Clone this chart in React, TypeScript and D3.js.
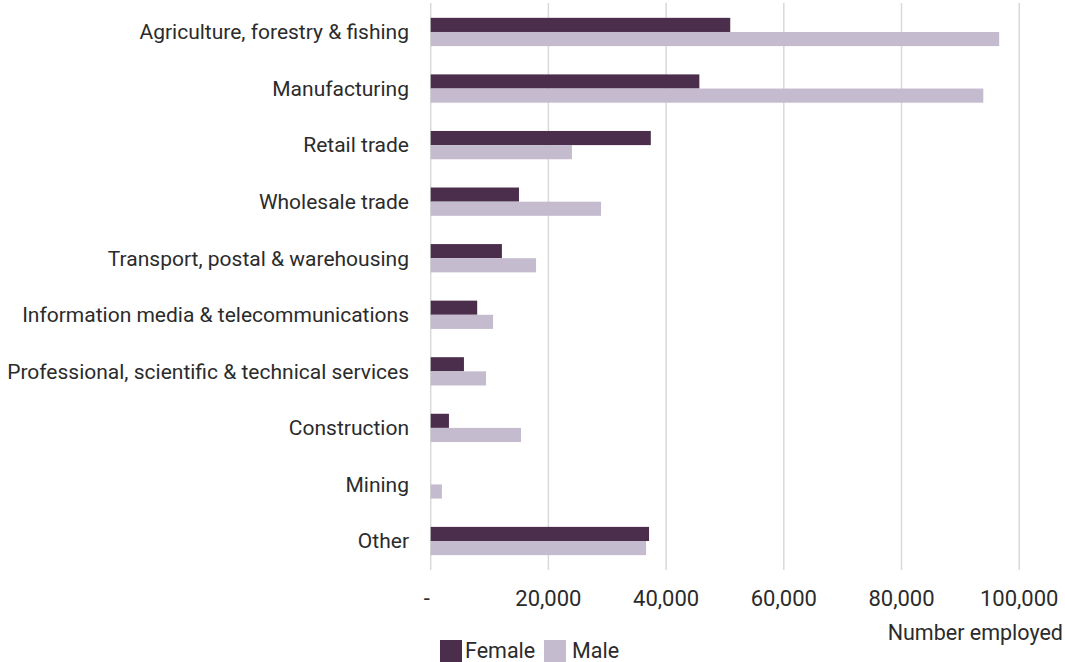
import React, { useEffect, useRef } from 'react';
import * as d3 from 'd3';

// industries, top to bottom
const industries = [
  'Agriculture, forestry & fishing',
  'Manufacturing',
  'Retail trade',
  'Wholesale trade',
  'Transport, postal & warehousing',
  'Information media & telecommunications',
  'Professional, scientific & technical services',
  'Construction',
  'Mining',
  'Other',
];

const femaleEmployed = [50900, 45650, 37400, 15000, 12100, 7900, 5650, 3100, 0, 37100];
const maleEmployed = [96600, 93900, 24000, 28950, 17900, 10600, 9400, 15350, 1900, 36600];

const seriesNames = ['Female', 'Male'];
const xTicks = [0, 20000, 40000, 60000, 80000, 100000];

const WIDTH = 1065;
const HEIGHT = 662;
const FONT = 'Roboto, "Noto Sans", sans-serif';
const TEXT_COLOR = '#2b2b2b';

const App: React.FC = () => {
  const svgRef = useRef<SVGSVGElement>(null);

  useEffect(() => {
    if (!svgRef.current) return;
    const svg = d3.select(svgRef.current);
    svg.selectAll('*').remove();

    const rows = industries.map((name, i) => ({
      name,
      Female: femaleEmployed[i],
      Male: maleEmployed[i],
    }));

    const x = d3.scaleLinear().domain([0, 100000]).range([430.7, 1019.2]);

    const y = d3.scaleBand()
      .domain(industries)
      .range([3.7, 569.3])
      .paddingInner(0.5)
      .paddingOuter(0.25);

    const ySub = d3.scaleBand()
      .domain(seriesNames)
      .range([0, y.bandwidth()]);

    const color = d3.scaleOrdinal<string>()
      .domain(seriesNames)
      .range(['#4b2e4b', '#c4bbcf']);

    // gridlines
    svg.append('g')
      .selectAll('line')
      .data(xTicks)
      .enter()
      .append('line')
      .attr('x1', d => x(d))
      .attr('x2', d => x(d))
      .attr('y1', 3)
      .attr('y2', 570)
      .attr('stroke', '#d9d9d9')
      .attr('stroke-width', 1.5);

    // bars
    const groups = svg.append('g')
      .selectAll('g')
      .data(rows)
      .enter()
      .append('g')
      .attr('transform', d => `translate(0,${y(d.name)})`);

    groups.selectAll('rect')
      .data(d => seriesNames.map(key => ({ key, value: d[key as 'Female' | 'Male'] })))
      .enter()
      .append('rect')
      .attr('x', x(0))
      .attr('y', d => ySub(d.key)!)
      .attr('width', d => x(d.value) - x(0))
      .attr('height', ySub.bandwidth())
      .attr('fill', d => color(d.key));

    // category labels
    svg.append('g')
      .selectAll('text')
      .data(industries)
      .enter()
      .append('text')
      .attr('x', 409)
      .attr('y', d => y(d)! + y.bandwidth() / 2)
      .attr('dy', '0.35em')
      .attr('text-anchor', 'end')
      .style('font-family', FONT)
      .style('font-size', '21px')
      .style('fill', TEXT_COLOR)
      .text(d => d);

    // x tick labels
    svg.append('g')
      .selectAll('text')
      .data(xTicks)
      .enter()
      .append('text')
      .attr('x', d => (d === 0 ? x(d) - 4 : x(d)))
      .attr('y', 606)
      .attr('text-anchor', 'middle')
      .style('font-family', FONT)
      .style('font-size', '22px')
      .style('fill', TEXT_COLOR)
      .text(d => (d === 0 ? '-' : d3.format(',')(d)));

    svg.append('text')
      .attr('x', 1063)
      .attr('y', 640)
      .attr('text-anchor', 'end')
      .style('font-family', FONT)
      .style('font-size', '21.5px')
      .style('fill', TEXT_COLOR)
      .text('Number employed');

    // legend
    const legendX = [440, 544];
    const legend = svg.append('g')
      .selectAll('g')
      .data(seriesNames)
      .enter()
      .append('g')
      .attr('transform', (d, i) => `translate(${legendX[i]},640)`);

    legend.append('rect')
      .attr('width', 22)
      .attr('height', 22)
      .attr('fill', d => color(d));

    legend.append('text')
      .attr('x', (d, i) => (i === 0 ? 25 : 28))
      .attr('y', 18)
      .style('font-family', FONT)
      .style('font-size', '21.5px')
      .style('fill', TEXT_COLOR)
      .text(d => d);
  }, []);

  return (
    <svg
      ref={svgRef}
      width={WIDTH}
      height={HEIGHT}
      style={{ position: 'absolute', left: 0, top: 0, background: '#fff', display: 'block' }}
    />
  );
};

export default App;
